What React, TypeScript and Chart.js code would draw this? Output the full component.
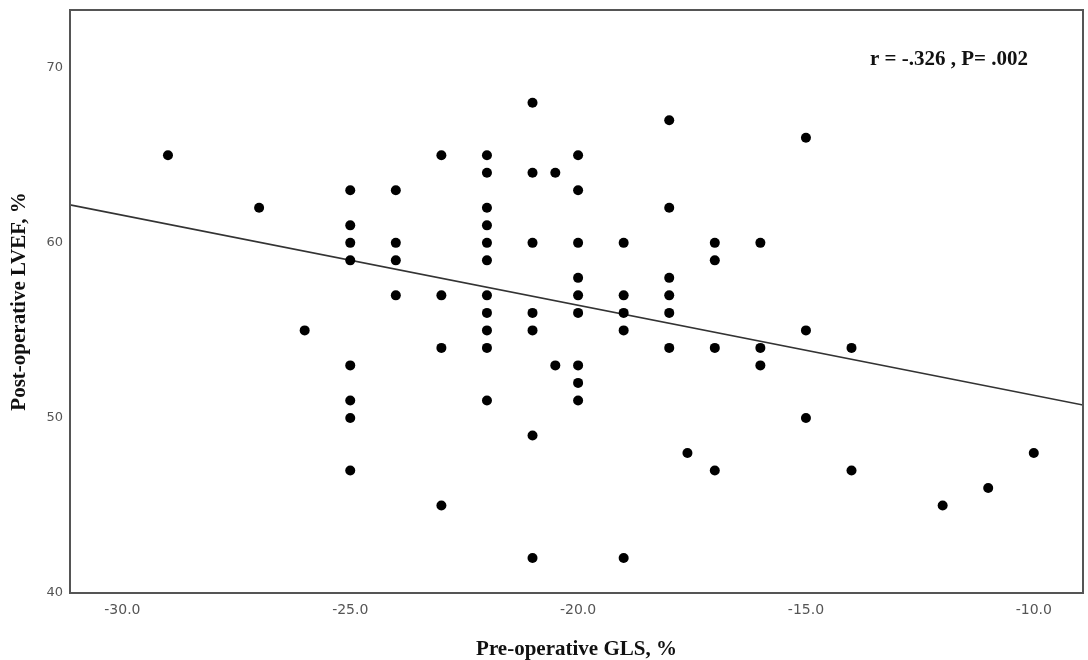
import React, { useEffect, useRef } from "react";
import { Chart, registerables } from "chart.js";

Chart.register(...registerables);

// Pre-operative GLS (%) and post-operative LVEF (%) per patient
const gls: number[] = [
  -29, -27, -26,
  -25, -25, -25, -25, -25, -25, -25, -25,
  -24, -24, -24, -24,
  -23, -23, -23, -23,
  -22, -22, -22, -22, -22, -22, -22, -22, -22, -22, -22,
  -21, -21, -21, -21, -21, -21, -21,
  -20.5, -20.5,
  -20, -20, -20, -20, -20, -20, -20, -20, -20,
  -19, -19, -19, -19, -19,
  -18, -18, -18, -18, -18, -18,
  -17.6,
  -17, -17, -17, -17,
  -16, -16, -16,
  -15, -15, -15,
  -14, -14,
  -12, -11, -10,
];
const lvef: number[] = [
  65, 62, 55,
  63, 61, 60, 59, 53, 51, 50, 47,
  63, 60, 59, 57,
  65, 57, 54, 45,
  65, 64, 62, 61, 60, 59, 57, 56, 55, 54, 51,
  68, 64, 60, 56, 55, 49, 42,
  64, 53,
  65, 63, 60, 58, 57, 56, 53, 52, 51,
  60, 57, 56, 55, 42,
  67, 62, 58, 57, 56, 54,
  48,
  60, 59, 54, 47,
  60, 54, 53,
  66, 55, 50,
  54, 47,
  45, 46, 48,
];

// Fitted regression line, evaluated at the two ends of the x range
const fitX: number[] = [-31.15, -8.92];
const fitY: number[] = [62.17, 50.74];

const xRange = { min: -31.15, max: -8.92 };
const yRange = { min: 40, max: 73.3 };
const xTickStep = 5;
const yTickStep = 10;

const statsLabel = "r = -.326 , P= .002";
const xTitle = "Pre-operative GLS, %";
const yTitle = "Post-operative LVEF, %";

const serif = "'Liberation Serif', 'Times New Roman', serif";

const frameAndLabel = {
  id: "frameAndLabel",
  afterDatasetsDraw(chart: Chart) {
    const { ctx, chartArea } = chart;
    ctx.save();
    ctx.strokeStyle = "#555555";
    ctx.lineWidth = 2;
    ctx.strokeRect(chartArea.left, chartArea.top, chartArea.right - chartArea.left, chartArea.bottom - chartArea.top);
    ctx.fillStyle = "#111111";
    ctx.font = `bold 21px ${serif}`;
    ctx.textAlign = "center";
    ctx.textBaseline = "middle";
    ctx.fillText(statsLabel, chartArea.right - 134, chartArea.top + 50);
    ctx.restore();
  },
};

export default function App() {
  const canvasRef = useRef<HTMLCanvasElement | null>(null);

  useEffect(() => {
    const canvas = canvasRef.current;
    if (!canvas) return;
    const points = gls.map((x, i) => ({ x, y: lvef[i] }));
    const fit = fitX.map((x, i) => ({ x, y: fitY[i] }));
    const chart = new Chart(canvas, {
      type: "scatter",
      data: {
        datasets: [
          {
            type: "line",
            data: fit,
            borderColor: "#333333",
            borderWidth: 1.6,
            pointRadius: 0,
            fill: false,
            order: 2,
          },
          {
            type: "scatter",
            data: points,
            backgroundColor: "#000000",
            borderColor: "#000000",
            borderWidth: 0,
            pointRadius: 5,
            order: 1,
          },
        ],
      },
      options: {
        responsive: false,
        animation: false,
        events: [],
        layout: { padding: { top: 10, right: 5, left: 0, bottom: 0 } },
        plugins: {
          legend: { display: false },
          tooltip: { enabled: false },
        },
        scales: {
          x: {
            type: "linear",
            min: xRange.min,
            max: xRange.max,
            grid: { display: false, drawTicks: false },
            border: { display: false },
            ticks: {
              stepSize: xTickStep,
              includeBounds: false,
              padding: 9,
              color: "#555555",
              font: { family: "'DejaVu Sans', sans-serif", size: 14 },
              callback: (v: any) => Number(v).toFixed(1),
            },
            title: {
              display: true,
              text: xTitle,
              color: "#111111",
              padding: { top: 0, bottom: 0 },
              font: { family: serif, size: 21, weight: "bold", lineHeight: 1 },
            },
            afterFit: (scale: any) => {
              scale.height = 67;
              scale.paddingLeft = 0;
              scale.paddingRight = 0;
            },
          },
          y: {
            type: "linear",
            min: yRange.min,
            max: yRange.max,
            grid: { display: false, drawTicks: false },
            border: { display: false },
            ticks: {
              stepSize: yTickStep,
              includeBounds: false,
              padding: 7,
              color: "#555555",
              font: { family: "'DejaVu Sans', sans-serif", size: 13 },
            },
            title: {
              display: true,
              text: yTitle,
              color: "#111111",
              padding: { top: 9, bottom: 0 },
              font: { family: serif, size: 21, weight: "bold", lineHeight: 1 },
            },
            afterFit: (scale: any) => {
              scale.width = 70;
              scale.paddingTop = 0;
              scale.paddingBottom = 0;
            },
          },
        },
      },
      plugins: [frameAndLabel],
    });
    return () => chart.destroy();
  }, []);

  return (
    <div style={{ position: "fixed", left: 0, top: 0, width: 1088, height: 660, background: "#ffffff" }}>
      <canvas ref={canvasRef} width={1088} height={660} style={{ width: 1088, height: 660, display: "block" }} />
    </div>
  );
}
